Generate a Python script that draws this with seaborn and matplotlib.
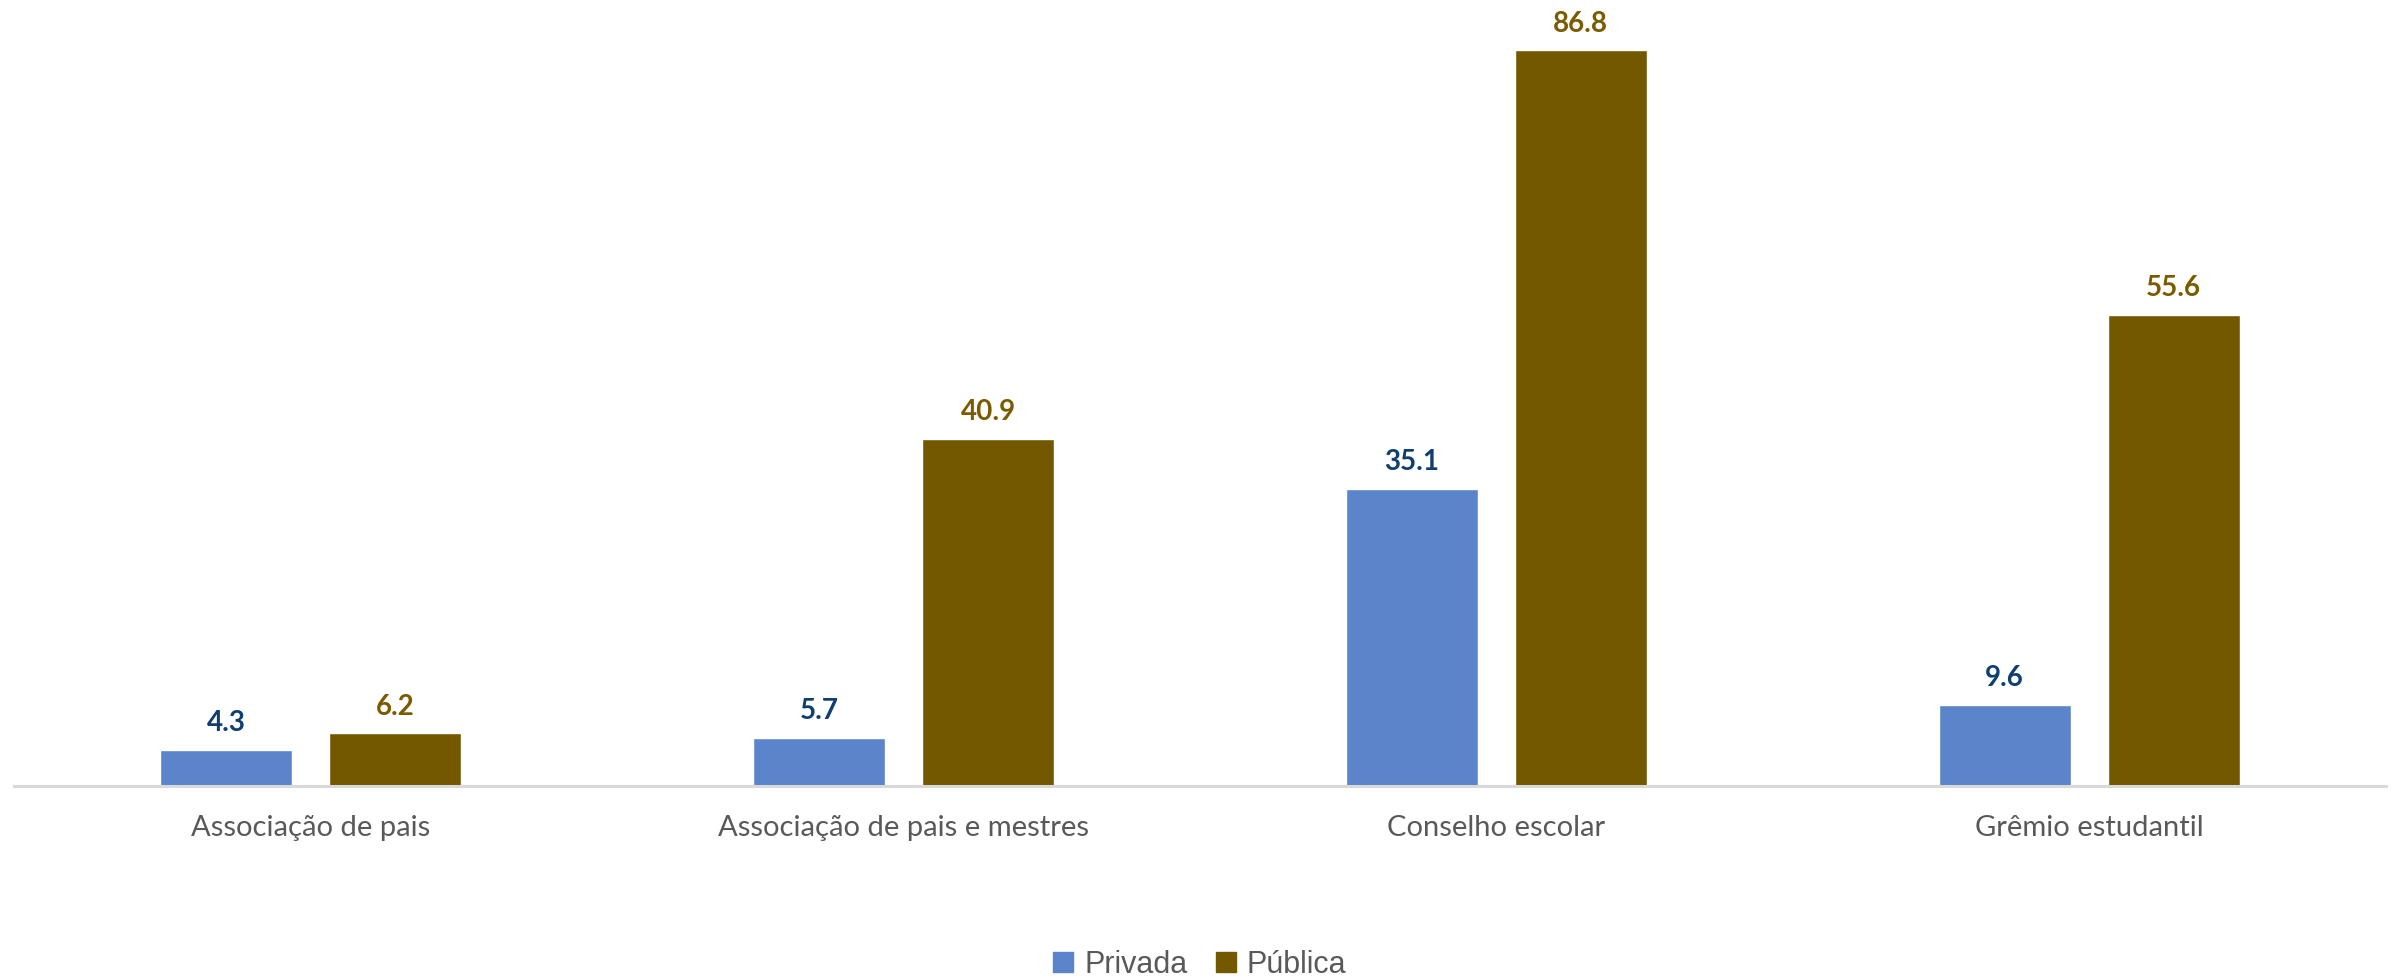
import pandas as pd
import matplotlib.pyplot as plt
import seaborn as sns

# data
categories = ['Associação de pais', 'Associação de pais e mestres', 'Conselho escolar', 'Grêmio estudantil']
series = ['Privada', 'Pública']
privada = [4.3, 5.7, 35.1, 9.6]
publica = [6.2, 40.9, 86.8, 55.6]

bar_colors = ['#5B84CB', '#745800']
label_colors = ['#0F3F72', '#7A5B00']

data = pd.DataFrame({
    'categoria': categories * 2,
    'tipo': [series[0]] * 4 + [series[1]] * 4,
    'valor': privada + publica,
})

sns.set_style('white')
plt.rcParams['font.family'] = ['Lato', 'DejaVu Sans']

fig = plt.figure(figsize=(24, 9.8), dpi=100)
ax = fig.add_axes([0.006, 0.198, 0.988, 0.802])

sns.barplot(data=data, x='categoria', y='valor', hue='tipo', order=categories,
            hue_order=series, palette=bar_colors, width=0.57, gap=0.219,
            saturation=1, legend=False, ax=ax)

for container, c in zip(ax.containers, label_colors):
    ax.bar_label(container, fmt='%.1f', padding=10, color=c,
                 fontsize=20, fontweight='bold')

ax.set_ylim(0, 92.75)
ax.set_xlim(-0.5, 3.5)
ax.set_xlabel('')
ax.set_ylabel('')
ax.set_yticks([])
ax.tick_params(axis='x', length=0, pad=21, labelsize=21, labelcolor='#595959')
for s in ['top', 'right', 'left']:
    ax.spines[s].set_visible(False)
ax.spines['bottom'].set_color('#D9D9D9')
ax.spines['bottom'].set_linewidth(2.2)

# legend
handles = [plt.Rectangle((0, 0), 1, 1, color=c) for c in bar_colors]
fig.legend(handles, series, loc='center', bbox_to_anchor=(0.5, 15 / 980), ncol=2,
           frameon=False, prop={'family': 'Liberation Sans', 'size': 22},
           labelcolor='#595959', handlelength=0.65, handleheight=0.65,
           handletextpad=0.35, columnspacing=0.95)

fig.savefig('out.png', dpi=100)
